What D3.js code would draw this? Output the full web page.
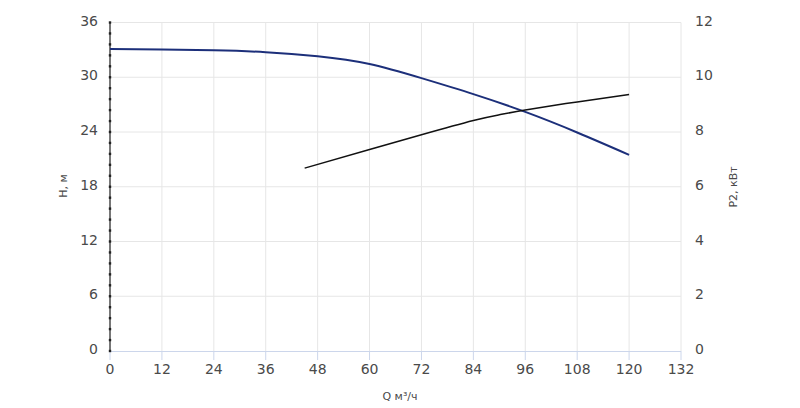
<!DOCTYPE html>
<html>
<head>
  <meta charset="utf-8">
  <script src="https://d3js.org/d3.v7.min.js"></script>
  <style>
    body { margin: 0; background: #fff; font-family: "DejaVu Sans", sans-serif; }
    .tick-label { font-size: 14px; fill: #4a4a4a; }
    .axis-title { font-size: 11px; fill: #4a4a4a; }
  </style>
</head>
<body>
<script>
  // head curve H (m) vs flow Q (m3/h)
  var headQ = [0, 12, 24, 36, 48, 60, 72, 84, 96, 108, 120];
  var headH = [33.1, 33.05, 32.95, 32.75, 32.3, 31.45, 29.9, 28.15, 26.2, 23.95, 21.5];

  // power curve P2 (kW) vs flow Q
  var powerQ = [45, 60, 72, 84, 90, 96, 108, 120];
  var powerP = [6.68, 7.36, 7.9, 8.42, 8.63, 8.8, 9.1, 9.37];

  var xTicks = [0, 12, 24, 36, 48, 60, 72, 84, 96, 108, 120, 132];
  var hTicks = [0, 6, 12, 18, 24, 30, 36];
  var pTicks = [0, 2, 4, 6, 8, 10, 12];

  var width = 800, height = 408;
  var plotL = 110, plotR = 681, plotT = 22.5, plotB = 351;

  var svg = d3.select("body").append("svg")
    .attr("width", width).attr("height", height);

  var x = d3.scaleLinear().domain([0, 132]).range([plotL, plotR]);
  var yH = d3.scaleLinear().domain([0, 36]).range([plotB, plotT]);
  var yP = d3.scaleLinear().domain([0, 12]).range([plotB, plotT]);

  // grid
  svg.append("g").selectAll("line").data(hTicks.slice(1)).enter().append("line")
    .attr("x1", plotL).attr("x2", plotR)
    .attr("y1", function(d) { return yH(d); }).attr("y2", function(d) { return yH(d); })
    .attr("stroke", "#e6e6e6").attr("stroke-width", 1);

  svg.append("g").selectAll("line").data(xTicks.slice(1)).enter().append("line")
    .attr("x1", function(d) { return x(d); }).attr("x2", function(d) { return x(d); })
    .attr("y1", plotT).attr("y2", plotB)
    .attr("stroke", "#e6e6e6").attr("stroke-width", 1);

  // x axis line + ticks
  svg.append("line")
    .attr("x1", plotL).attr("x2", plotR).attr("y1", plotB + 0.5).attr("y2", plotB + 0.5)
    .attr("stroke", "#ccd6eb").attr("stroke-width", 1);
  svg.append("g").selectAll("line").data(xTicks).enter().append("line")
    .attr("x1", function(d) { return x(d); }).attr("x2", function(d) { return x(d); })
    .attr("y1", plotB).attr("y2", plotB + 9)
    .attr("stroke", "#ccd6eb").attr("stroke-width", 1);

  svg.append("g").selectAll("text").data(xTicks).enter().append("text")
    .attr("class", "tick-label")
    .attr("x", function(d) { return x(d); })
    .attr("y", plotB + 23)
    .attr("text-anchor", "middle")
    .text(function(d) { return d; });

  // left axis: gray line with minor tick dots
  svg.append("line")
    .attr("x1", plotL).attr("x2", plotL).attr("y1", plotT).attr("y2", plotB)
    .attr("stroke", "#777").attr("stroke-width", 2);
  svg.append("g").selectAll("line").data(d3.range(0, 36.01, 1.2)).enter().append("line")
    .attr("x1", plotL).attr("x2", plotL)
    .attr("y1", function(d) { return yH(d) - 1.2; }).attr("y2", function(d) { return yH(d) + 1.2; })
    .attr("stroke", "#222").attr("stroke-width", 2.4);

  svg.append("g").selectAll("text").data(hTicks).enter().append("text")
    .attr("class", "tick-label")
    .attr("x", plotL - 12)
    .attr("y", function(d) { return yH(d) + 3; })
    .attr("text-anchor", "end")
    .text(function(d) { return d; });

  svg.append("g").selectAll("text").data(pTicks).enter().append("text")
    .attr("class", "tick-label")
    .attr("x", plotR + 14)
    .attr("y", function(d) { return yP(d) + 3; })
    .text(function(d) { return d; });

  // axis titles
  svg.append("text").attr("class", "axis-title")
    .attr("transform", "translate(67,186) rotate(-90)")
    .attr("text-anchor", "middle").text("Н, м");
  svg.append("text").attr("class", "axis-title")
    .attr("transform", "translate(737,187) rotate(-90)")
    .attr("text-anchor", "middle").text("P2, кВт");
  svg.append("text").attr("class", "axis-title")
    .attr("x", 400).attr("y", 400)
    .attr("text-anchor", "middle").text("Q м³/ч");

  // curves
  var lineH = d3.line()
    .x(function(d, i) { return x(headQ[i]); })
    .y(function(d) { return yH(d); })
    .curve(d3.curveNatural);
  svg.append("path").datum(headH)
    .attr("d", lineH).attr("fill", "none")
    .attr("stroke", "#1c2f7a").attr("stroke-width", 2);

  var lineP = d3.line()
    .x(function(d, i) { return x(powerQ[i]); })
    .y(function(d) { return yP(d); })
    .curve(d3.curveNatural);
  svg.append("path").datum(powerP)
    .attr("d", lineP).attr("fill", "none")
    .attr("stroke", "#111").attr("stroke-width", 1.5);
</script>
</body>
</html>
